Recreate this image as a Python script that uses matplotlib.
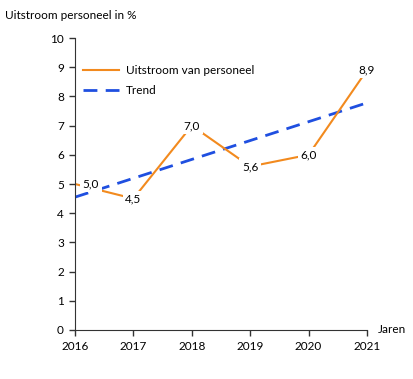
import matplotlib.pyplot as plt

plt.rcParams['font.family'] = ['Lato', 'DejaVu Sans']

years = [2016, 2017, 2018, 2019, 2020, 2021]
uitstroom = [5.0, 4.5, 7.0, 5.6, 6.0, 8.9]
labels = ['5,0', '4,5', '7,0', '5,6', '6,0', '8,9']
trend_years = [2016, 2021]
trend = [4.55, 7.78]

orange = '#f28a1e'
blue = '#1f4fe0'

fig = plt.figure(figsize=(4.13, 3.79), dpi=100)
ax = fig.add_axes([0.1816, 0.1293, 0.707, 0.7704])

ax.plot(years, uitstroom, color=orange, lw=1.5, label='Uitstroom van personeel', zorder=2)
ax.plot(trend_years, trend, color=blue, lw=2, ls=(0, (5, 3)), label='Trend', zorder=1)

for i, (x, y, t) in enumerate(zip(years, uitstroom, labels)):
    dx = 0.27 if i == 0 else 0
    ax.text(x + dx, y, t, ha='center', va='center', fontsize=8.5,
            bbox=dict(boxstyle='square,pad=0.22', fc='white', ec='none'), zorder=3)

ax.set_xlim(2016, 2021)
ax.set_ylim(0, 10)
ax.set_xticks(years)
ax.set_yticks(range(0, 11))
ax.tick_params(labelsize=8.5, length=4, width=1, color='#333333', pad=4)
for s in ['top', 'right']:
    ax.spines[s].set_visible(False)
for s in ['left', 'bottom']:
    ax.spines[s].set_color('#333333')

ax.legend(loc='upper left', bbox_to_anchor=(0.0, 0.935), frameon=False, fontsize=8.5,
          handlelength=3.0, handletextpad=0.6, borderaxespad=0.3, labelspacing=0.75)

fig.text(0.012, 0.96, 'Uitstroom personeel in %', fontsize=8.5, va='center')
fig.text(0.915, 0.13, 'Jaren', fontsize=8.5, va='center')

fig.savefig('out.png', dpi=100)
